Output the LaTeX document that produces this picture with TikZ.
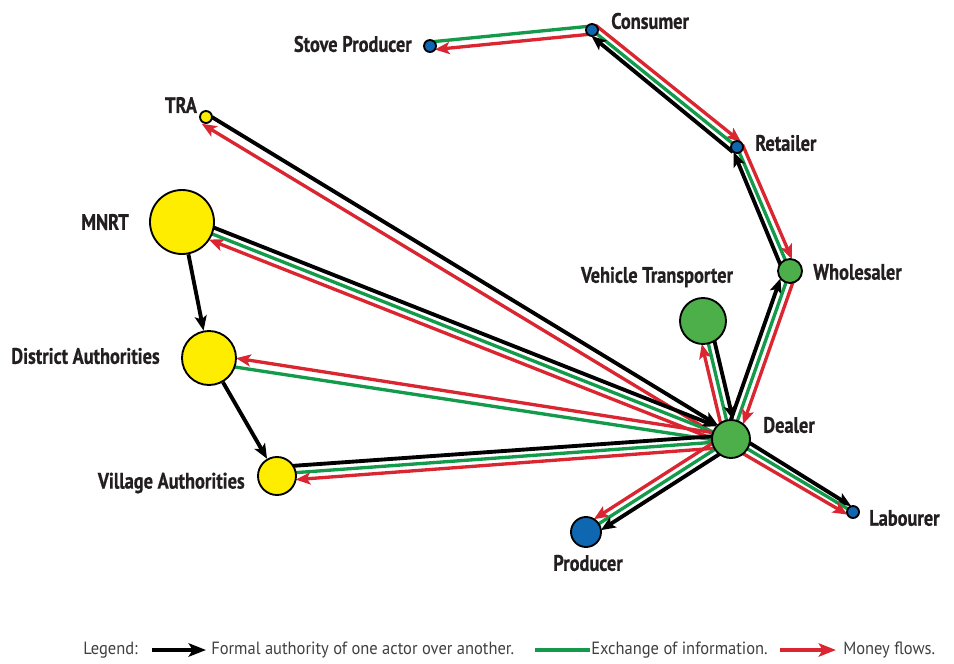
\documentclass[tikz,border=0pt]{standalone}
\usepackage{fontspec}
\setmainfont{PT Sans}[FakeStretch=0.82, BoldFeatures={FakeBold=0.6}]
\newfontfamily\legendfont{PT Sans}[FakeStretch=0.93]
\usetikzlibrary{arrows.meta,calc}

\definecolor{nodeyellow}{HTML}{FFED00}
\definecolor{nodegreen}{HTML}{4DAF4A}
\definecolor{nodeblue}{HTML}{0F67B1}
\definecolor{flowgreen}{HTML}{139A4A}
\definecolor{flowred}{HTML}{DA2630}
\definecolor{labelink}{HTML}{231F20}
\definecolor{legendink}{HTML}{404040}

\pgfdeclarelayer{flows}
\pgfsetlayers{flows,main}

\tikzset{
  >={Stealth[length=11pt,width=9pt,inset=2.5pt]},
  actor/.style={circle, draw=black, line width=1.4pt, inner sep=0pt,
                minimum size=#1*0.75pt},
  yellowactor/.style={actor=#1, fill=nodeyellow},
  greenactor/.style={actor=#1, fill=nodegreen},
  blueactor/.style={actor=#1, fill=nodeblue},
  actorlabel/.style={font=\bfseries\fontsize{16.8}{19}\selectfont, text=labelink, inner sep=0pt},
  legendlabel/.style={font=\legendfont\fontsize{13.3}{15}\selectfont, text=legendink, inner sep=0pt, anchor=west},
  auth/.style={draw=black, line width=2.9pt},
  info/.style={draw=flowgreen, line width=2.5pt},
  money/.style={draw=flowred, line width=2.5pt},
  keytip/.style={-{Stealth[length=13pt,width=10pt,inset=3pt]}},
}

% \flow[style]{from}{radius}{offset}{to}{radius}{offset}
% radii and offsets in px; positive offset lies left of the from->to direction
\newcommand\flow[7][]{%
  \pgfmathsetmacro\flowsA{0.75*sqrt(max((#3)^2-(#4)^2,0))}%
  \pgfmathsetmacro\flowsB{0.75*sqrt(max((#6)^2-(#7)^2,0))}%
  \pgfmathsetmacro\flowkA{0.75*(#4)}%
  \pgfmathsetmacro\flowkB{0.75*(#7)}%
  \draw[#1, shorten <=\flowsA pt, shorten >=\flowsB pt]
    ($(#2.center)!\flowkA pt!90:(#5.center)$) --
    ($(#5.center)!\flowkB pt!-90:(#2.center)$);%
}

\begin{document}
\begin{tikzpicture}[x=0.75pt,y=-0.75pt]
\useasboundingbox (0,0) rectangle (954,664);

% actors (sizes are diameters in px)
\node[blueactor=12]   (stove)     at (430,46)  {};
\node[blueactor=12]   (consumer)  at (592,30)  {};
\node[yellowactor=12] (tra)       at (206,117) {};
\node[blueactor=12]   (retailer)  at (737,147) {};
\node[yellowactor=64] (mnrt)      at (182,222) {};
\node[greenactor=24]  (wholesaler) at (790,271) {};
\node[greenactor=46]  (vtrans)    at (703,321) {};
\node[yellowactor=54] (district)  at (209,358) {};
\node[greenactor=38]  (dealer)    at (731,439) {};
\node[yellowactor=38] (village)   at (277,476) {};
\node[blueactor=12]   (labourer)  at (853,512) {};
\node[blueactor=30]   (producer)  at (586,532) {};

% labels
\node[actorlabel, anchor=east] at (412,44)  {Stove Producer};
\node[actorlabel, anchor=west] at (611,21)  {Consumer};
\node[actorlabel]              at (181,105) {TRA};
\node[actorlabel, anchor=west] at (755,143) {Retailer};
\node[actorlabel, anchor=east] at (129,222) {MNRT};
\node[actorlabel, anchor=west] at (813,272) {Wholesaler};
\node[actorlabel]              at (657,277) {Vehicle Transporter};
\node[actorlabel, anchor=east] at (160,356) {District Authorities};
\node[actorlabel, anchor=west] at (763,425) {Dealer};
\node[actorlabel, anchor=east] at (245,483) {Village Authorities};
\node[actorlabel, anchor=west] at (869,518) {Labourer};
\node[actorlabel]              at (588,563) {Producer};

\begin{pgfonlayer}{flows}
  % consumer -- stove producer
  \flow[info]{consumer}{6}{-4}{stove}{6}{-4}
  \flow[money,->]{consumer}{6}{4}{stove}{6}{4}
  % retailer -- consumer
  \flow[money,<-]{retailer}{6}{-6.5}{consumer}{6}{-6}
  \flow[info]{retailer}{6}{0}{consumer}{6}{0}
  \flow[auth,->]{retailer}{6}{6.5}{consumer}{6}{5}
  % wholesaler -- retailer
  \flow[money,<-]{wholesaler}{12}{-6.5}{retailer}{6}{-6}
  \flow[info]{wholesaler}{12}{0}{retailer}{6}{0}
  \flow[auth,->]{wholesaler}{12}{6.5}{retailer}{6}{5}
  % dealer -- wholesaler
  \flow[auth,->]{dealer}{19}{6.5}{wholesaler}{12}{6.5}
  \flow[info]{dealer}{19}{0}{wholesaler}{12}{0}
  \flow[money,<-]{dealer}{19}{-6.5}{wholesaler}{12}{-6.5}
  % TRA -- dealer
  \flow[auth,->]{tra}{6}{3}{dealer}{19}{5}
  \flow[money,<-]{tra}{6}{-8}{dealer}{19}{-4}
  % MNRT -- dealer
  \flow[auth,->]{mnrt}{32}{6.5}{dealer}{19}{6.5}
  \flow[info]{mnrt}{32}{0}{dealer}{19}{0}
  \flow[money,<-]{mnrt}{32}{-6.5}{dealer}{19}{-6.5}
  % district authorities -- dealer
  \flow[money,<-]{district}{27}{4}{dealer}{19}{3.5}
  \flow[info]{district}{27}{-5}{dealer}{19}{-3.5}
  % village authorities -- dealer
  \flow[auth]{village}{19}{9}{dealer}{19}{4}
  \flow[info]{village}{19}{2}{dealer}{19}{-2}
  \flow[money,<-]{village}{19}{-5}{dealer}{19}{-8}
  % dealer -- vehicle transporter
  \flow[money,->]{dealer}{19}{6.5}{vtrans}{23}{6.5}
  \flow[info]{dealer}{19}{0}{vtrans}{23}{0}
  \flow[auth,<-]{dealer}{19}{-6.5}{vtrans}{23}{-6.5}
  % dealer -- labourer
  \flow[auth,->]{dealer}{19}{6.5}{labourer}{6}{4}
  \flow[info]{dealer}{19}{0}{labourer}{6}{0}
  \flow[money,->]{dealer}{19}{-6.5}{labourer}{6}{-5}
  % dealer -- producer
  \flow[money,->]{dealer}{19}{-6.5}{producer}{15}{-6.5}
  \flow[info]{dealer}{19}{0}{producer}{15}{0}
  \flow[auth,->]{dealer}{19}{6.5}{producer}{15}{6.5}
  % chain of authority
  \draw[auth,->] (mnrt) -- (district);
  \draw[auth,->] (district) -- (village);
\end{pgfonlayer}

% legend
\node[legendlabel] (lgtitle) at (83,650) {Legend:};
\coordinate (k1a) at (152,650);
\coordinate (k1b) at (206,650);
\draw[auth,keytip] (k1a) -- (k1b);
\node[legendlabel] (lgauth) at (211,650) {Formal authority of one actor over another.};
\coordinate (k2a) at (535,650);
\coordinate (k2b) at (590,650);
\draw[info] (k2a) -- (k2b);
\node[legendlabel] (lginfo) at (591,650) {Exchange of information.};
\coordinate (k3a) at (780,650);
\coordinate (k3b) at (836,650);
\draw[money,keytip] (k3a) -- (k3b);
\node[legendlabel] (lgmoney) at (843,650) {Money flows.};
\end{tikzpicture}
\end{document}
